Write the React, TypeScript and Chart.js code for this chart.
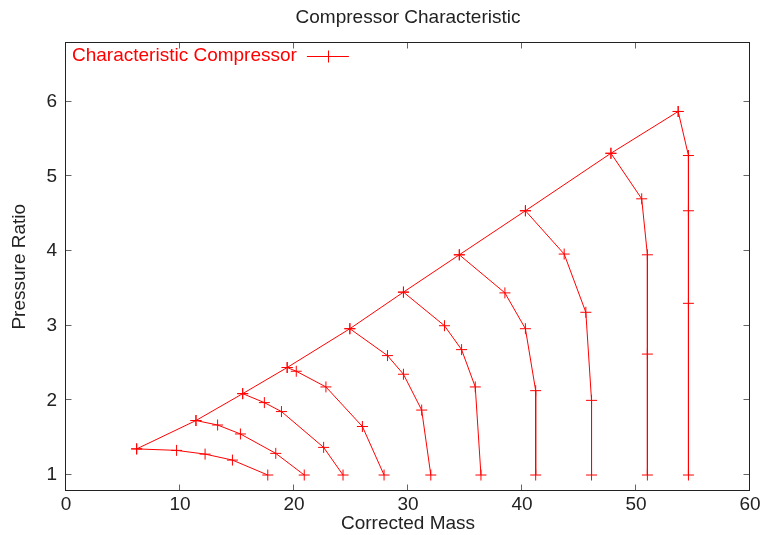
import React, { useEffect, useRef } from "react";
import { Chart, registerables } from "chart.js";

Chart.register(...registerables);

// ---- Data ----
const surgeMass = [6.2, 11.4, 15.5, 19.4, 24.9, 29.6, 34.5, 40.3, 47.8, 53.7];
const surgeRatio = [1.35, 1.73, 2.09, 2.44, 2.96, 3.45, 3.95, 4.54, 5.31, 5.87];

const speedMass = [
  [6.2, 9.7, 12.2, 14.6, 17.7],
  [11.4, 13.3, 15.3, 18.4, 20.9],
  [15.5, 17.4, 18.9, 22.6, 24.3],
  [19.4, 20.2, 22.8, 26.0, 27.9],
  [24.9, 28.2, 29.6, 31.2, 32.0],
  [29.6, 33.2, 34.7, 35.9, 36.4],
  [34.5, 38.5, 40.3, 41.2, 41.2],
  [40.3, 43.7, 45.6, 46.1, 46.1],
  [47.8, 50.5, 51.0, 51.0, 51.0],
  [53.7, 54.6, 54.6, 54.6, 54.6],
];
const speedRatio = [
  [1.35, 1.33, 1.28, 1.2, 1.0],
  [1.73, 1.67, 1.55, 1.29, 1.0],
  [2.09, 1.97, 1.85, 1.37, 1.0],
  [2.44, 2.39, 2.18, 1.65, 1.0],
  [2.96, 2.6, 2.35, 1.87, 1.0],
  [3.45, 3.0, 2.68, 2.18, 1.0],
  [3.95, 3.44, 2.96, 2.13, 1.0],
  [4.54, 3.96, 3.18, 2.0, 1.0],
  [5.31, 4.7, 3.95, 2.62, 1.0],
  [5.87, 5.28, 4.54, 3.3, 1.0],
];

const xTicks = [0, 10, 20, 30, 40, 50, 60];
const yTicks = [1, 2, 3, 4, 5, 6];

const seriesLabel = "Characteristic Compressor";
const chartTitle = "Compressor Characteristic";
const xTitle = "Corrected Mass";
const yTitle = "Pressure Ratio";

// ---- build one gnuplot-like dataset with gaps between blocks ----
function buildPoints() {
  const pts: { x: number; y: number | null }[] = [];
  surgeMass.forEach((m, i) => pts.push({ x: m, y: surgeRatio[i] }));
  speedMass.forEach((line, li) => {
    pts.push({ x: line[0], y: null });
    line.forEach((m, i) => pts.push({ x: m, y: speedRatio[li][i] }));
  });
  return pts;
}

const FONT = '"Liberation Sans", Arial, Helvetica, sans-serif';
const RED = "#ff0000";
const TEXT = "#222222";

const framePlugin = {
  id: "gnuFrame",
  beforeDatasetsDraw(chart: any) {
    const { ctx, chartArea } = chart;
    const { left, right, top, bottom } = chartArea;
    const xs = chart.scales.x;
    const ys = chart.scales.y;
    const L = Math.round(left) - 0.5;
    const R = Math.round(right) - 0.5;
    const T = Math.round(top) - 0.5;
    const B = Math.round(bottom) - 0.5;
    ctx.save();
    ctx.lineWidth = 1;
    ctx.strokeStyle = "#666666";
    ctx.beginPath();
    xTicks.forEach((v) => {
      const px = Math.round(xs.getPixelForValue(v)) - 0.5;
      ctx.moveTo(px, B);
      ctx.lineTo(px, B - 6);
      ctx.moveTo(px, T);
      ctx.lineTo(px, T + 6);
    });
    yTicks.forEach((v) => {
      const py = Math.round(ys.getPixelForValue(v)) - 0.5;
      ctx.moveTo(L, py);
      ctx.lineTo(L + 6, py);
      ctx.moveTo(R, py);
      ctx.lineTo(R - 6, py);
    });
    ctx.stroke();
    ctx.strokeStyle = "#222222";
    ctx.strokeRect(L, T, R - L, B - T);
    ctx.restore();
  },
  afterDraw(chart: any) {
    const { ctx, chartArea } = chart;
    const { left, top } = chartArea;
    ctx.save();
    ctx.font = `19px ${FONT}`;
    ctx.fillStyle = RED;
    ctx.textBaseline = "middle";
    ctx.textAlign = "left";
    const ty = top + 13;
    ctx.fillText(seriesLabel, left + 6, ty);
    const w = ctx.measureText(seriesLabel).width;
    const x0 = left + 6 + w + 10;
    const x1 = x0 + 42;
    const ly = Math.round(ty) + 0.5;
    ctx.strokeStyle = RED;
    ctx.lineWidth = 1;
    ctx.beginPath();
    ctx.moveTo(x0, ly);
    ctx.lineTo(x1, ly);
    const cx = Math.round((x0 + x1) / 2) + 0.5;
    ctx.moveTo(cx, ly - 6);
    ctx.lineTo(cx, ly + 6);
    ctx.moveTo(cx - 6, ly);
    ctx.lineTo(cx + 6, ly);
    ctx.stroke();
    ctx.restore();
  },
};

export default function App() {
  const ref = useRef<HTMLCanvasElement | null>(null);

  useEffect(() => {
    if (!ref.current) return;
    const chart = new Chart(ref.current, {
      type: "scatter",
      data: {
        datasets: [
          {
            label: seriesLabel,
            data: buildPoints() as any,
            showLine: true,
            spanGaps: false,
            borderColor: RED,
            backgroundColor: RED,
            borderWidth: 1,
            pointStyle: "cross",
            pointRadius: 5.5,
            pointBorderWidth: 1,
            pointBorderColor: RED,
            pointHoverRadius: 5.5,
          } as any,
        ],
      },
      options: {
        animation: false,
        responsive: false,
        devicePixelRatio: 1,
        layout: { padding: { left: 0, right: 14, top: 0, bottom: 0 } },
        plugins: {
          legend: { display: false },
          tooltip: { enabled: false },
          title: {
            display: true,
            fullSize: false,
            text: chartTitle,
            color: TEXT,
            font: { family: FONT, size: 19, weight: "normal" as any, lineHeight: 1.2 },
            padding: { top: 6, bottom: 14 },
          },
        },
        scales: {
          x: {
            type: "linear",
            position: "bottom",
            min: 0,
            max: 60,
            grid: { display: false, drawTicks: false },
            border: { display: false },
            afterBuildTicks: (s: any) => {
              s.ticks = xTicks.map((v) => ({ value: v }));
            },
            afterFit: (s: any) => {
              s.height = 44.3;
            },
            ticks: {
              color: TEXT,
              font: { family: FONT, size: 19 },
              padding: 3,
              maxRotation: 0,
              autoSkip: false,
            },
            title: {
              display: true,
              text: xTitle,
              color: TEXT,
              font: { family: FONT, size: 19, lineHeight: 1.2 },
              padding: { top: 0, bottom: 0 },
            },
          },
          y: {
            type: "linear",
            min: 0.79,
            max: 6.79,
            grid: { display: false, drawTicks: false },
            border: { display: false },
            afterBuildTicks: (s: any) => {
              s.ticks = yTicks.map((v) => ({ value: v }));
            },
            afterFit: (s: any) => {
              s.width = 66;
            },
            ticks: {
              color: TEXT,
              font: { family: FONT, size: 19 },
              padding: 9,
              autoSkip: false,
            },
            title: {
              display: true,
              text: yTitle,
              color: TEXT,
              font: { family: FONT, size: 19, lineHeight: 1.2 },
              padding: { top: 8.6, bottom: 0 },
            },
          },
        },
      },
      plugins: [framePlugin],
    });
    return () => chart.destroy();
  }, []);

  return (
    <div style={{ position: "absolute", left: 0, top: 0, width: 764, height: 535, background: "#fff" }}>
      <canvas ref={ref} width={764} height={535} style={{ display: "block" }} />
    </div>
  );
}
